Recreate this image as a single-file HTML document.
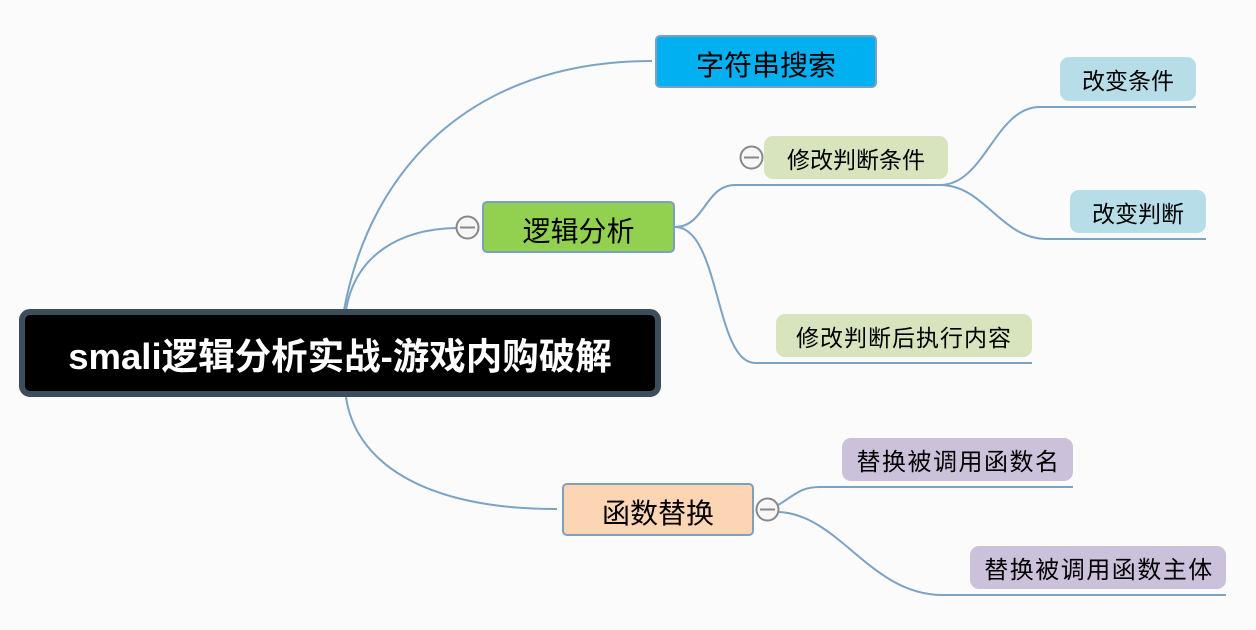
<!DOCTYPE html>
<html>
<head>
<meta charset="utf-8">
<style>
  html,body{margin:0;padding:0;}
  body{width:1256px;height:630px;background:#fbfbfc;position:relative;overflow:hidden;
    font-family:"Liberation Sans","Noto Sans CJK SC","WenQuanYi Zen Hei",sans-serif;}
  svg{position:absolute;left:0;top:0;}
  .n{position:absolute;box-sizing:border-box;display:flex;align-items:center;justify-content:center;color:#000;white-space:nowrap;}
  .big{font-size:28px;border:2px solid #7c9fc2;border-radius:5px;padding-top:5px;}
  .mid{font-size:23px;border-radius:9px;}
  .pur{font-size:24px;letter-spacing:1.5px;padding-left:2px;border-radius:9px;background:#ccc1da;}
</style>
</head>
<body>
<svg width="1256" height="630" viewBox="0 0 1256 630">
  <g fill="none" stroke="#7ba3c4" stroke-width="2">
    <path d="M344,310 C370,170 470,61 652,61"/>
    <path d="M346,310 C355,255 400,229 456,228"/>
    <path d="M346,397 C355,460 420,509 557,509"/>
    <path d="M675,227 C705,227 705,185 735,185 L945,185"/>
    <path d="M940,185 C985,185 995,107 1040,107 L1196,107"/>
    <path d="M940,185 C985,185 1000,239 1047,239 L1206,239"/>
    <path d="M675,227 C720,227 715,363 755,363 L1032,363"/>
    <path d="M778,505 C795,495 800,487 820,487 L1073,487"/>
    <path d="M779,512 C840,515 870,595 943,595 L1226,595"/>
  </g>
  <g fill="#f7f7f7" stroke="#888" stroke-width="2">
    <circle cx="467.5" cy="227.5" r="11"/>
    <circle cx="751.5" cy="157.5" r="11"/>
    <circle cx="767.5" cy="509.5" r="11"/>
  </g>
  <g stroke="#888" stroke-width="2">
    <line x1="460" y1="227.5" x2="475" y2="227.5"/>
    <line x1="744" y1="157.5" x2="759" y2="157.5"/>
    <line x1="760" y1="509.5" x2="775" y2="509.5"/>
  </g>
</svg>

<div class="n" style="left:19px;top:309px;width:642px;height:88px;background:#000;border:6px solid #3c4d5c;border-radius:11px;color:#fff;font-weight:bold;font-size:36.5px;">smali逻辑分析实战-游戏内购破解</div>

<div class="n big" style="left:655px;top:35px;width:222px;height:53px;background:#00b0f0;">字符串搜索</div>
<div class="n big" style="left:482px;top:201px;width:193px;height:52px;background:#92d050;">逻辑分析</div>
<div class="n big" style="left:562px;top:483px;width:192px;height:53px;background:#fcd5b5;">函数替换</div>

<div class="n mid" style="left:764px;top:136px;width:184px;height:43px;background:#d7e4bd;">修改判断条件</div>
<div class="n mid" style="left:776px;top:314px;width:256px;height:43px;background:#d7e4bd;letter-spacing:1px;">修改判断后执行内容</div>
<div class="n mid" style="left:1060px;top:57px;width:136px;height:44px;background:#b7dee8;">改变条件</div>
<div class="n mid" style="left:1070px;top:190px;width:136px;height:43px;background:#b7dee8;">改变判断</div>

<div class="n pur" style="left:842px;top:438px;width:231px;height:43px;">替换被调用函数名</div>
<div class="n pur" style="left:970px;top:546px;width:256px;height:43px;">替换被调用函数主体</div>
</body>
</html>
